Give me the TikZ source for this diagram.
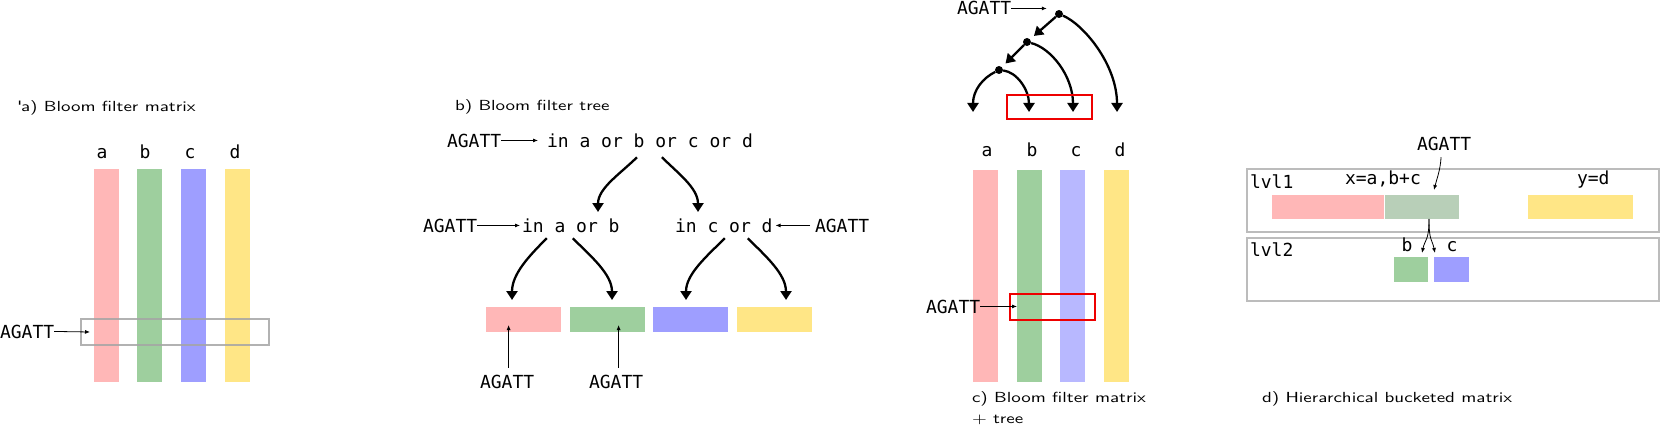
\documentclass[tikz,border=0pt]{standalone}
\usepackage{fontspec}
\setmonofont{DejaVu Sans Mono}
\newfontfamily\labfont{lmsans10-regular.otf}[FakeStretch=1.3]
\usetikzlibrary{arrows.meta}
\definecolor{cpink}{RGB}{255,183,183}
\definecolor{cgreen}{RGB}{158,207,158}
\definecolor{cblue}{RGB}{158,158,255}
\definecolor{cbluel}{RGB}{184,184,255}
\definecolor{cyellow}{RGB}{255,230,134}
\definecolor{cgreyg}{RGB}{184,207,184}
\definecolor{cgrayb}{RGB}{165,165,165}
\definecolor{cgrayl}{RGB}{188,188,188}
\definecolor{cred}{RGB}{238,0,0}
\begin{document}
\begin{tikzpicture}[x=1pt,y=-1pt,
  mono/.style={font=\fontsize{18}{20}\selectfont\ttfamily, inner sep=0pt, outer sep=0pt},
  lab/.style={font=\fontsize{14.6}{21}\selectfont\labfont, inner sep=0pt, outer sep=0pt},
  thinarr/.style={-{Latex[length=5pt,width=4pt]}, line width=0.8pt},
  thickarr/.style={-{Triangle[length=9pt,width=11pt]}, line width=2.3pt},
  blk/.style={inner sep=0pt, outer sep=0pt, anchor=north west},
  colbar/.style={blk, minimum width=25pt, minimum height=#1},
  hbox/.style={blk, minimum width=75pt, minimum height=25pt},
  dot/.style={circle, fill=black, inner sep=0pt, minimum size=8pt}
]
\useasboundingbox (0,0) rectangle (1660,425);

% ---------------- a) Bloom filter matrix
\node[lab, anchor=base west] (la) at (17,112) {\textquotesingle a) Bloom filter matrix};
\node[colbar=213pt, fill=cpink]   (a1) at (94,169) {};
\node[colbar=213pt, fill=cgreen]  (a2) at (137,169) {};
\node[colbar=213pt, fill=cblue]   (a3) at (181,169) {};
\node[colbar=213pt, fill=cyellow] (a4) at (225,169) {};
\node[mono, anchor=base] (la1) at (102,159) {a};
\node[mono, anchor=base] (la2) at (145,159) {b};
\node[mono, anchor=base] (la3) at (190,159) {c};
\node[mono, anchor=base] (la4) at (235,159) {d};
\node[blk, draw=cgrayb, opacity=.85, line width=2.5pt, minimum width=188pt, minimum height=26pt] (aq) at (81,319) {};
\node[mono, anchor=base west] (aag) at (0,338) {AGATT};
\coordinate (aend) at (90,332);
\draw[thinarr] (aag.east) -- (aend);

% ---------------- b) Bloom filter tree
\node[lab, anchor=base west] (lb) at (455,111) {b) Bloom filter tree};
\node[mono, anchor=base west] (bag1) at (447,147) {AGATT};
\node[mono, anchor=base west] (br1) at (547,147) {in a or b or c or d};
\draw[thinarr, shorten >=9pt] (bag1.east) -- (bag1.east -| br1.west);

\node[mono, anchor=base west] (bag2) at (423,232) {AGATT};
\node[mono, anchor=base west] (br2a) at (522,232) {in a or b};
\node[mono, anchor=base west] (br2b) at (675,232) {in c or d};
\node[mono, anchor=base west] (bag3) at (815,232) {AGATT};
\draw[thinarr, shorten >=2pt] (bag2.east) -- (bag2.east -| br2a.west);
\draw[thinarr, shorten <=5pt, shorten >=3pt] (bag3.west) -- (bag3.west -| br2b.east);

\coordinate (bt1) at (598,212);
\coordinate (bt2) at (698,212);
\draw[thickarr] ([shift={(-13,10)}]br1.south) .. controls +(-16,16) and +(0,-24) .. (bt1);
\draw[thickarr] ([shift={(12,10)}]br1.south) .. controls +(16,16) and +(0,-24) .. (bt2);

\node[hbox, fill=cpink]   (bb1) at (486,307) {};
\node[hbox, fill=cgreen]  (bb2) at (570,307) {};
\node[hbox, fill=cblue]   (bb3) at (653,307) {};
\node[hbox, fill=cyellow] (bb4) at (737,307) {};

\coordinate (bt3) at (512,300);
\coordinate (bt4) at (612,300);
\coordinate (bt5) at (686,300);
\coordinate (bt6) at (786,300);
\draw[thickarr] ([shift={(-24,6)}]br2a.south) .. controls +(-18,18) and +(0,-26) .. (bt3);
\draw[thickarr] ([shift={(2,6)}]br2a.south) .. controls +(18,18) and +(0,-26) .. (bt4);
\draw[thickarr] ([shift={(1,6)}]br2b.south) .. controls +(-18,18) and +(0,-26) .. (bt5);
\draw[thickarr] ([shift={(24,6)}]br2b.south) .. controls +(18,18) and +(0,-26) .. (bt6);

\node[mono, anchor=base west] (bag4) at (480,388) {AGATT};
\node[mono, anchor=base west] (bag5) at (589,388) {AGATT};
\draw[thinarr] ([shift={(1.5,-7)}]bag4.north) -- ([shift={(1.5,-7)}]bag4.north |- bb1.south);
\draw[thinarr] ([shift={(2.5,-7)}]bag5.north) -- ([shift={(2.5,-7)}]bag5.north |- bb2.south);

% ---------------- c) Bloom filter matrix + tree
\node[mono, anchor=base west] (cag1) at (957,15) {AGATT};
\node[dot] (n1) at (1059,14) {};
\node[dot] (n2) at (1027,42) {};
\node[dot] (n3) at (999,70) {};
\draw[thinarr, shorten >=8pt] (cag1.east) -- (cag1.east -| n1.west);
\draw[thickarr, shorten >=5pt] (n1) -- (n2);
\draw[thickarr, shorten >=5pt] (n2) -- (n3);
\coordinate (ct1) at (973,112);
\coordinate (ct2) at (1029,112);
\coordinate (ct3) at (1073,112);
\coordinate (ct4) at (1117,112);
\draw[thickarr] (n3) .. controls +(-16,8) and +(0,-22) .. (ct1);
\draw[thickarr] (n3) .. controls +(18,2) and +(0,-22) .. (ct2);
\draw[thickarr] (n2) .. controls +(24,6) and +(0,-36) .. (ct3);
\draw[thickarr] (n1) .. controls +(24,10) and +(0,-48) .. (ct4);
\node[blk, draw=cred, line width=2pt, minimum width=85pt, minimum height=24pt] (crt) at (1007,95) {};

\node[mono, anchor=base] (lc1) at (987,157) {a};
\node[mono, anchor=base] (lc2) at (1032,157) {b};
\node[mono, anchor=base] (lc3) at (1076,157) {c};
\node[mono, anchor=base] (lc4) at (1120,157) {d};
\node[colbar=212pt, fill=cpink]   (c1) at (973,170) {};
\node[colbar=212pt, fill=cgreen]  (c2) at (1017,170) {};
\node[colbar=212pt, fill=cbluel]  (c3) at (1060,170) {};
\node[colbar=212pt, fill=cyellow] (c4) at (1104,170) {};
\node[blk, draw=cred, line width=2pt, minimum width=85pt, minimum height=26pt] (crb) at (1010,294) {};
\node[mono, anchor=base west] (cag2) at (926,313) {AGATT};
\draw[thinarr] (cag2.east) -- (cag2.east -| c2.west);
\node[lab, anchor=base west] (lc) at (972,402.5) {c) Bloom filter matrix};
\node[lab, anchor=base west] (lc2b) at (972,423.5) {+ tree};

% ---------------- d) Hierarchical bucketed matrix
\node[blk, draw=cgrayl, line width=2pt, minimum width=412pt, minimum height=63pt] (lv1) at (1247,169) {};
\node[blk, draw=cgrayl, line width=2pt, minimum width=412pt, minimum height=63pt] (lv2) at (1247,238) {};
\node[mono, anchor=base west] (tl1) at (1250,188) {lvl1};
\node[mono, anchor=base west] (tl2) at (1250,256) {lvl2};
\node[mono, anchor=base west] (tx) at (1345,184) {x=a,b+c};
\node[mono, anchor=base west] (ty) at (1577,184) {y=d};
\node[mono, anchor=base west] (dag) at (1417,150) {AGATT};
\node[blk, fill=cpink,   minimum width=112pt, minimum height=24pt] (d1) at (1272,195) {};
\node[blk, fill=cgreyg,  minimum width=74pt,  minimum height=24pt] (d2) at (1385,195) {};
\node[blk, fill=cyellow, minimum width=105pt, minimum height=24pt] (d3) at (1528,195) {};
\node[blk, fill=cgreen,  minimum width=34pt,  minimum height=25pt] (d4) at (1394,257) {};
\node[blk, fill=cblue,   minimum width=35pt,  minimum height=25pt] (d5) at (1434,257) {};
\node[mono, anchor=base] (db) at (1407,251) {b};
\node[mono, anchor=base] (dc) at (1452,251) {c};
\coordinate (dt1) at (1434,190);
\coordinate (dt2) at (1422,253);
\coordinate (dt3) at (1435,253);
\draw[thinarr] ([shift={(-3,7)}]dag.south) .. controls +(-1,14) and +(3,-12) .. (dt1);
\draw[thinarr] ([xshift=7pt]d2.south) .. controls +(0,22) and +(3,-14) .. (dt2);
\draw[thinarr] ([xshift=7pt]d2.south) .. controls +(0,22) and +(-3,-14) .. (dt3);
\node[lab, anchor=base west] (ld) at (1262,402) {d) Hierarchical bucketed matrix};
\end{tikzpicture}
\end{document}
